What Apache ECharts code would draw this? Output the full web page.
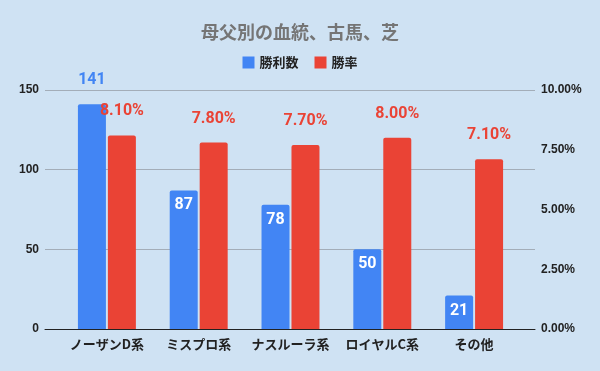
<!DOCTYPE html>
<html><head><meta charset="utf-8">
<script src="https://cdn.jsdelivr.net/npm/echarts@6/dist/echarts.min.js"></script>
<style>html,body{margin:0;padding:0;background:#cfe2f3}#c{width:600px;height:371px}</style>
</head><body><div id="c"></div>
<script>
const categories = ['ノーザンD系','ミスプロ系','ナスルーラ系','ロイヤルC系','その他'];
const wins = [141, 87, 78, 50, 21];
const winRate = [8.10, 7.80, 7.70, 8.00, 7.10];
const leftTicks = [0, 50, 100, 150];
const rightTicks = [0, 2.5, 5, 7.5, 10];
const seriesNames = ['勝利数', '勝率'];
const titleText = '母父別の血統、古馬、芝';

const blue = '#4285f4', red = '#ea4335';
const chart = echarts.init(document.getElementById('c'));
const lblFont = {fontFamily: 'Roboto, Arial, sans-serif', fontWeight: 'bold', fontSize: 16};
chart.setOption({
  backgroundColor: '#cfe2f3',
  animation: false,
  title: {text: titleText, left: 'center', top: 18,
    textStyle: {color: '#757575', fontSize: 18, fontWeight: 'bold', fontFamily: '"Noto Sans CJK JP", sans-serif'}},
  legend: {top: 51, left: 'center', icon: 'rect', itemWidth: 12, itemHeight: 12, itemGap: 16,
    data: seriesNames,
    textStyle: {color: '#222', fontSize: 13, fontFamily: '"Noto Sans CJK JP", sans-serif', fontWeight: 'bold'}},
  grid: [
    {left: 45, right: 65, top: 90, bottom: 42},
    {left: 61, right: 80, top: 90, bottom: 42}
  ],
  xAxis: [
    {gridIndex: 0, type: 'value', min: 0, max: 1, axisLine: {show: true, onZero: false, lineStyle: {color: '#222', width: 1}},
     axisTick: {show: false}, axisLabel: {show: false}, splitLine: {show: false}, z: 10},
    {gridIndex: 1, type: 'category', data: categories, axisLine: {show: false}, axisTick: {show: false},
     axisLabel: {interval: 0, color: '#222', fontSize: 13, fontWeight: 'bold', margin: 9, fontFamily: '"Noto Sans CJK JP", sans-serif'}}
  ],
  yAxis: [
    {gridIndex: 0, type: 'value', min: leftTicks[0], max: leftTicks[leftTicks.length-1], interval: 50,
     axisLine: {show: false}, axisTick: {show: false},
     axisLabel: {color: '#222', fontSize: 12, fontWeight: 'bold', margin: 6, fontFamily: 'Arial, "Liberation Sans", sans-serif'},
     splitLine: {show: true, lineStyle: {color: '#a3adb8', width: 1}}},
    {gridIndex: 0, type: 'value', position: 'right', min: rightTicks[0], max: rightTicks[rightTicks.length-1], interval: 2.5,
     axisLine: {show: false}, axisTick: {show: false}, splitLine: {show: false},
     axisLabel: {color: '#222', fontSize: 12, fontWeight: 'bold', margin: 6, fontFamily: 'Arial, "Liberation Sans", sans-serif',
       formatter: v => v.toFixed(2) + '%'}},
    {gridIndex: 1, type: 'value', min: 0, max: 150, show: false},
    {gridIndex: 1, type: 'value', min: 0, max: 10, show: false}
  ],
  series: [
    {name: seriesNames[0], type: 'bar', xAxisIndex: 1, yAxisIndex: 2, barWidth: 28, barGap: '7%',
     itemStyle: {color: blue, borderRadius: [2, 2, 0, 0]},
     data: wins.map((v, i) => ({value: v, label: i === 0
       ? {show: true, position: 'top', distance: 16, color: blue, ...lblFont}
       : {show: true, position: 'insideTop', distance: 7, color: '#fff', ...lblFont}}))},
    {name: seriesNames[1], type: 'bar', xAxisIndex: 1, yAxisIndex: 3, barWidth: 28,
     itemStyle: {color: red, borderRadius: [2, 2, 0, 0]},
     label: {show: true, position: 'top', distance: 16, color: red, ...lblFont, formatter: p => p.value.toFixed(2) + '%'},
     data: winRate}
  ]
});
</script></body></html>
